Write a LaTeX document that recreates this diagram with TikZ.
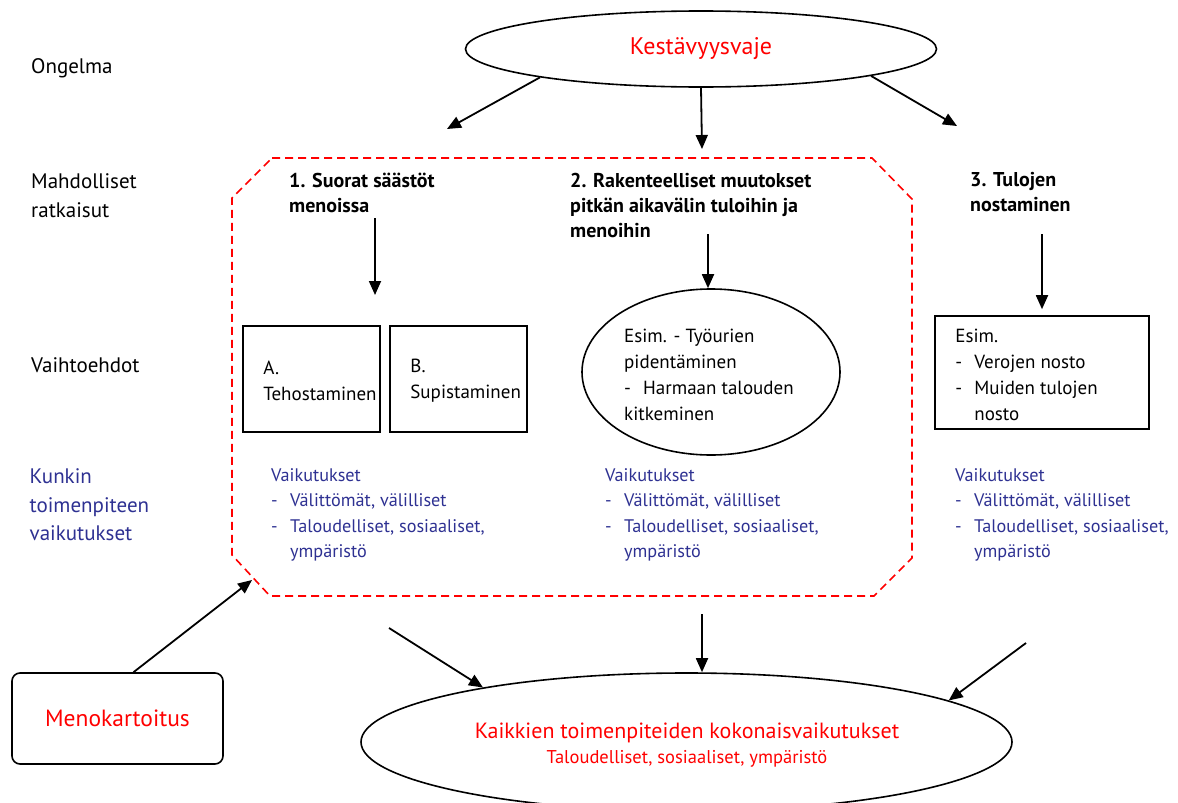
\documentclass[tikz,border=0pt]{standalone}
\usepackage{fontspec}
\setmainfont{PT Sans}
\usetikzlibrary{positioning}
\usetikzlibrary{shapes.geometric}
\usetikzlibrary{arrows.meta}
\usepackage{xcolor}

\definecolor{vred}{RGB}{255,0,0}
\definecolor{vblue}{RGB}{46,49,146}

\newcommand{\dashitem}[1]{\makebox[19pt][l]{-}#1}
\newcommand{\contline}[1]{\hspace*{19pt}#1}

\begin{document}
\begin{tikzpicture}[x=1pt, y=-1pt,
  every node/.style={inner sep=0pt},
  arr/.style={-{Triangle[length=14pt,width=12pt]}, line width=1.8pt},
  rowlbl/.style={anchor=west, align=left, font=\fontsize{21}{28.5}\selectfont},
  head/.style={anchor=west, align=left, font=\fontsize{20}{25}\selectfont\bfseries},
  optbox/.style={draw, line width=1.6pt, minimum height=106pt, minimum width=137pt},
  opttxt/.style={anchor=west, align=left, font=\fontsize{19}{26}\selectfont},
  effect/.style={anchor=west, align=left, text=vblue, font=\fontsize{18.2}{25.3}\selectfont},
  reddash/.style={draw=vred, line width=1.6pt, dash pattern=on 8pt off 5pt}
]

\useasboundingbox (0,0) rectangle (1178,803);

% labellings
{
\node[rowlbl] (ongelma) at (31,68) {Ongelma};

\node[rowlbl] (ratk) at (31,195.5) {Mahdolliset\\ratkaisut};

\node[rowlbl] (vaiht) at (31,365) {Vaihtoehdot};

\node[rowlbl, text=vblue] (kunkin) at (29.5,505) {Kunkin\\toimenpiteen\\vaikutukset};
}

% problem
\node[draw, ellipse, line width=1.6pt, minimum width=471pt, minimum height=76pt,
  text=vred, font=\fontsize{24}{28}\selectfont] (vaje) at (701,49) {Kestävyysvaje};

\coordinate (t1) at (447,129);
\coordinate (t2) at (702,149);
\coordinate (t3) at (957,126);

\draw[arr] (vaje.190) -- (t1);
\draw[arr] (vaje.south) -- (t2);
\draw[arr] (vaje.351.5) -- (t3);


% dashed frame
\draw[reddash] (272,158) -- (872,158) -- (912,199) -- (912,558) -- (874,596)
  -- (270,596) -- (232,555) -- (232,198) -- cycle;

\coordinate (mk) at (252,580);


% solutions
\node[head] (h1) at (289,192.5) {1. Suorat säästöt\\menoissa};

\node[head] (h2) at (570,205) {2. Rakenteelliset muutokset\\pitkän aikavälin tuloihin ja\\menoihin};

\node[head] (h3) at (970,192.5) {3. Tulojen\\nostaminen};


% options
\node[optbox] (boxA) at (311.5,379) {};
\node[opttxt] (txtA) at ([xshift=21pt,yshift=-1.5pt]boxA.west) {A.\\Tehostaminen};

\node[optbox] (boxB) at (458.5,379) {};
\node[opttxt] (txtB) at ([xshift=21pt,yshift=-1.5pt]boxB.west) {B.\\Supistaminen};

\node[draw, ellipse, line width=1.6pt, minimum width=258pt, minimum height=166pt] (esim) at (711,372) {};
\node[opttxt] (txtE) at (624,375)
  {Esim. - Työurien\\pidentäminen\\\dashitem{Harmaan talouden}\\kitkeminen};

\node[optbox, minimum width=214pt, minimum height=113pt] (vero) at (1042,372.5) {};
\node[opttxt] (txtV) at ([xshift=21pt,yshift=-2pt]vero.west)
  {Esim.\\\dashitem{Verojen nosto}\\\dashitem{Muiden tulojen}\\\contline{nosto}};

\coordinate (a1s) at (375,218);
\coordinate (a1e) at (375,295);
\coordinate (a2s) at (708,234);
\coordinate (a3s) at (1042,234);
\coordinate (a3e) at ([yshift=6pt]vero.north);

\draw[arr] (a1s) -- (a1e);
\draw[arr] (a2s) -- (a2s |- esim.north);
\draw[arr] (a3s) -- (a3e);


% effects
\node[effect] (eff1) at (271,515)
  {Vaikutukset\\\dashitem{Välittömät, välilliset}\\\dashitem{Taloudelliset, sosiaaliset,}\\\contline{ympäristö}};

\node[effect] (eff2) at (605,515)
  {Vaikutukset\\\dashitem{Välittömät, välilliset}\\\dashitem{Taloudelliset, sosiaaliset,}\\\contline{ympäristö}};

\node[effect] (eff3) at (955,515)
  {Vaikutukset\\\dashitem{Välittömät, välilliset}\\\dashitem{Taloudelliset, sosiaaliset,}\\\contline{ympäristö}};


% bottom
\node[draw, rounded corners=8pt, line width=1.6pt, minimum width=211pt, minimum height=91pt,
  text=vred, font=\fontsize{23.5}{28}\selectfont] (meno) at (117.5,718.5) {Menokartoitus};

\draw[arr] ([xshift=16pt]meno.north) -- (mk);

\node[draw, ellipse, line width=1.6pt, minimum width=651pt, minimum height=138pt] (tot) at (686.5,742) {};
\node[text=vred, align=center] (totxt) at (687,745)
  {\fontsize{22}{27}\selectfont Kaikkien toimenpiteiden kokonaisvaikutukset\\[6pt]
   \fontsize{18.5}{26}\selectfont Taloudelliset, sosiaaliset, ympäristö};

\coordinate (b1s) at (389,628);
\coordinate (b2s) at (702,614);
\coordinate (b3s) at (1026,643);

\draw[arr] (b1s) -- (tot.165);
\draw[arr] (b2s) -- (b2s |- tot.north);
\draw[arr] (b3s) -- (tot.9);

\end{tikzpicture}
\end{document}
